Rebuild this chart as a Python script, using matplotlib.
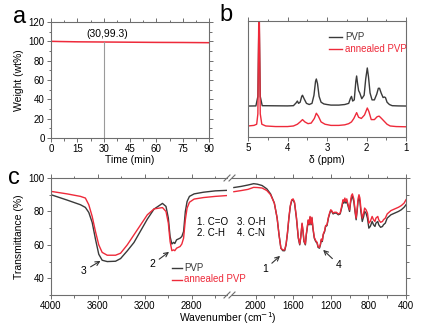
import matplotlib
matplotlib.use("Agg")
import matplotlib.pyplot as plt
import numpy as np

plt.rcParams['font.family'] = ['Liberation Sans', 'DejaVu Sans']

# ---------------- data ----------------
# (a) TGA
tga_time = [0, 5, 15, 30, 45, 60, 75, 90]
tga_weight = [100.0, 99.8, 99.5, 99.3, 99.1, 98.9, 98.8, 98.6]
tga_mark_x = 30
tga_mark_y = 99.3

# (b) 1H NMR (offset spectra, arbitrary units)
nmr_pvp_ppm = [5.0, 4.80, 4.75, 4.72, 4.69, 4.64, 4.0, 3.85, 3.78, 3.75, 3.72, 3.68, 3.64, 3.62,
               3.58, 3.52, 3.45, 3.38, 3.33, 3.29, 3.27, 3.24, 3.20, 3.15, 3.08, 3.0, 2.9, 2.7,
               2.55, 2.45, 2.41, 2.38, 2.35, 2.31, 2.27, 2.25, 2.23, 2.20, 2.17, 2.12, 2.06, 2.02,
               1.98, 1.95, 1.91, 1.86, 1.80, 1.74, 1.70, 1.67, 1.63, 1.58, 1.55, 1.52, 1.48, 1.42,
               1.35, 1.2, 1.0]
nmr_pvp_int = [26.7, 26.8, 35, 110, 35, 27, 26.8, 27, 29.5, 31, 29, 30, 35, 36,
               33, 29, 28, 29, 36, 48, 50, 46, 35, 30, 28.5, 28, 27.5, 27.5,
               28, 29, 33, 35, 31, 32, 48, 52.6, 47, 40, 38, 33, 36, 50,
               59.5, 52, 38, 32, 32, 37, 42, 42, 38, 34, 34.5, 34, 30, 28,
               27, 26.8, 26.7]
nmr_ann_ppm = [5.0, 4.85, 4.78, 4.75, 4.72, 4.69, 4.65, 4.55, 4.3, 4.0, 3.85, 3.75, 3.68, 3.62,
               3.56, 3.48, 3.40, 3.32, 3.27, 3.22, 3.15, 3.05, 2.9, 2.7, 2.55, 2.45, 2.38, 2.32,
               2.25, 2.20, 2.13, 2.05, 1.98, 1.94, 1.88, 1.80, 1.73, 1.68, 1.62, 1.55, 1.48, 1.4,
               1.25, 1.0]
nmr_ann_int = [9.5, 10, 11, 20, 130, 20, 11, 9.5, 9, 9, 9.5, 11, 13, 15,
               13, 11.5, 12, 16, 20.5, 18, 13, 11, 10, 10, 10.5, 11.5, 13, 16,
               21, 17, 16, 19, 25, 22, 15, 15, 17.5, 18, 16, 13.5, 11, 9.5,
               9, 8.8]

# (c) FTIR, left segment (4000-2500 cm-1)
ir_left_wn = [4000, 3863, 3749, 3707, 3678, 3649, 3621, 3593, 3564, 3521, 3450, 3407, 3350,
              3293, 3236, 3179, 3122, 3050, 3020, 3000, 2985, 2970, 2955, 2945, 2930, 2915,
              2900, 2885, 2870, 2855, 2840, 2820, 2780, 2700, 2600, 2500]
ir_left_pvp = [90.0, 86.8, 84.0, 82.4, 79.4, 73.4, 63.4, 54.4, 50.8, 50.0, 50.2, 51.8, 56.4,
               61.4, 68.4, 75.4, 81.4, 84.8, 83, 76, 65, 60.5, 61.5, 60.8, 63, 63.5,
               64, 65, 68, 80, 86, 89, 90.5, 91.5, 92.3, 92.6]
ir_left_ann = [92.0, 90.5, 89.0, 88.0, 84.0, 77.0, 68.0, 60.0, 55.5, 53.8, 53.8, 55.0, 60.0,
               66.0, 72.0, 78.0, 81.5, 82.3, 80, 73, 62, 56.5, 57, 56.5, 58, 58.5,
               59, 60.5, 64, 75, 82, 85.5, 87.4, 88.3, 89, 89.5]
# FTIR, right segment (2250-400 cm-1)
ir_right_wn = [2230, 2150, 2080, 2020, 1980, 1930, 1880, 1840, 1800, 1770, 1750, 1730, 1710,
               1690, 1675, 1660, 1645, 1630, 1615, 1600, 1585, 1565, 1545, 1530, 1520, 1505,
               1495, 1485, 1470, 1460, 1450, 1440, 1430, 1420, 1410, 1400, 1390, 1375, 1360,
               1345, 1335, 1320, 1310, 1300, 1290, 1280, 1265, 1255, 1240, 1225, 1210, 1200,
               1190, 1175, 1160, 1140, 1120, 1100, 1080, 1070, 1060, 1050, 1040, 1030, 1020,
               1010, 1000, 990, 980, 970, 955, 940, 930, 920, 910, 900, 890, 880, 865, 850,
               840, 825, 810, 795, 780, 760, 745, 730, 720, 700, 690, 670, 650, 640, 620,
               600, 580, 560, 540, 520, 500, 480, 450, 420, 400]
ir_right_pvp = [94.3, 95.0, 95.8, 96.6, 96.3, 95.5, 93.5, 90.5, 85, 76, 66, 58, 56.5,
                56.5, 60, 67, 76, 83, 86.5, 87.0, 85, 76, 64, 60, 64, 72.5,
                68, 62, 60, 66, 70, 74.5, 72, 76.5, 72, 76, 70, 64, 62,
                61, 58.5, 58, 60, 63, 62, 66, 68, 71, 71.5, 76, 79, 80.5,
                80, 78.5, 79, 79, 78, 78.5, 83, 86, 85, 87, 85, 86.5, 84,
                82, 80, 85, 88, 89, 86, 79, 75, 80, 86, 88, 86, 80, 74, 77,
                80, 79, 76, 70, 71, 74, 72, 71, 73, 74, 72, 70.5, 71, 72, 73,
                76, 77, 78, 78.5, 79, 79.5, 80, 81, 82.5, 84]
ir_right_ann = [91.8, 92.5, 93.2, 94.4, 94.3, 94.0, 92.5, 90.0, 85, 76, 66, 58, 57,
                57, 60.5, 67.5, 76.5, 83.5, 87, 87.5, 85.5, 76.5, 64.5, 60.5, 64.5, 73,
                68.5, 62.5, 60.5, 66.5, 70.5, 75, 72.5, 77, 72.5, 76.5, 70.5, 64.5, 62.5,
                61.5, 59, 58.5, 60.5, 63.5, 62.5, 66.5, 68.5, 71.5, 72, 76.5, 79.5, 81,
                80.5, 79, 79.5, 79.5, 78.5, 79, 84, 87, 86, 88, 86, 87.5, 85,
                83, 81, 86, 89.5, 90.5, 87.5, 80, 76, 81, 87.5, 90, 88, 82, 76, 79,
                82, 81, 79, 73, 74, 77, 75, 74, 76, 77, 75, 73.5, 74, 75, 76,
                78.5, 79.5, 80.5, 81, 81.5, 82, 82.5, 83.5, 85, 87]

ir_labels = ['1. C=O', '2. C-H', '3. O-H', '4. C-N']
series_names = ['PVP', 'annealed PVP']

# ---------------- style ----------------
BLACK = '#3a3a3a'
RED = '#ee2a3a'
SPINE = '#6e6e6e'
TICK_FS = 7
LAB_FS = 7.5
W, H = 424, 324
fig = plt.figure(figsize=(W / 100, H / 100), dpi=100)


def rect(l, t, r, b):
    return [l / W, 1 - b / H, (r - l) / W, (b - t) / H]


def fx(px):
    return px / W


def fy(py):
    return 1 - py / H


def style(ax):
    for s in ax.spines.values():
        s.set_color(SPINE)
        s.set_linewidth(0.8)
    ax.tick_params(axis='both', which='both', colors=SPINE, labelcolor='black',
                   labelsize=TICK_FS, direction='out', length=3, width=0.7, pad=1.5)
    ax.tick_params(axis='both', which='minor', length=1.8)


def manual_legend(x_line, x_text, ys):
    for name, col, yy in zip(series_names, [BLACK, RED], ys):
        fig.add_artist(plt.Line2D([fx(x_line[0]), fx(x_line[1])], [fy(yy), fy(yy)],
                                  color=col, lw=1.0))
        fig.text(fx(x_text), fy(yy), name, fontsize=7, color=col, ha='left', va='center')


# ---------------- panel a ----------------
axa = fig.add_axes(rect(51, 22, 209, 138))
axa.plot(tga_time, tga_weight, color=RED, lw=1.1)
axa.plot([tga_mark_x, tga_mark_x], [0, tga_mark_y], color='#9a9a9a', lw=0.8)
axa.text(tga_mark_x + 2, tga_mark_y + 3, '(%d,%.1f)' % (tga_mark_x, tga_mark_y),
         ha='center', va='bottom', fontsize=7.5)
axa.set_xlim(0, 90)
axa.set_ylim(0, 120)
axa.set_xticks(np.arange(0, 91, 15))
axa.set_yticks(np.arange(0, 121, 20))
axa.set_xticks(np.arange(7.5, 90, 15), minor=True)
axa.set_yticks(np.arange(10, 120, 20), minor=True)
style(axa)
axa.tick_params(top=True, right=True, which='both')
axa.set_xlabel('Time (min)', fontsize=LAB_FS, labelpad=0.5)
axa.set_ylabel('Weight (wt%)', fontsize=LAB_FS, labelpad=3)
fig.text(fx(20), fy(17), 'a', fontsize=17, ha='center', va='center')

# ---------------- panel b ----------------
axb = fig.add_axes(rect(248, 21, 406, 137))
axb.plot(nmr_pvp_ppm, nmr_pvp_int, color=BLACK, lw=1.0)
axb.plot(nmr_ann_ppm, nmr_ann_int, color=RED, lw=1.0)
axb.set_xlim(5, 1)
axb.set_ylim(0, 100)
axb.set_xticks([5, 4, 3, 2, 1])
axb.set_xticks([4.5, 3.5, 2.5, 1.5], minor=True)
axb.set_yticks([])
style(axb)
axb.tick_params(top=True, which='both')
axb.set_xlabel('δ (ppm)', fontsize=LAB_FS, labelpad=1.5)
manual_legend((329, 342), 345, (37, 49))
fig.text(fx(226), fy(15), 'b', fontsize=17, ha='center', va='center')

# ---------------- panel c ----------------
axl = fig.add_axes(rect(51, 178, 227, 295))
axr = fig.add_axes(rect(232, 178, 406, 295))
for ax, wn, p, a in [(axl, ir_left_wn, ir_left_pvp, ir_left_ann),
                     (axr, ir_right_wn, ir_right_pvp, ir_right_ann)]:
    ax.plot(wn, p, color=BLACK, lw=1.0)
    ax.plot(wn, a, color=RED, lw=1.0)
    ax.set_ylim(30, 100)
    style(ax)
axl.set_xlim(4000, 2500)
axr.set_xlim(2250, 400)
axl.set_xticks([4000, 3600, 3200, 2800])
axl.set_xticks([3800, 3400, 3000, 2600], minor=True)
axr.set_xticks([2000, 1600, 1200, 800, 400])
axr.set_xticks([1800, 1400, 1000, 600], minor=True)
axl.set_yticks([40, 60, 80, 100])
axl.set_yticks([30, 50, 70, 90], minor=True)
axl.spines['right'].set_visible(False)
axr.spines['left'].set_visible(False)
axr.set_yticks([40, 60, 80, 100])
axr.set_yticks([30, 50, 70, 90], minor=True)
axr.tick_params(axis='y', which='both', left=False, labelleft=False, right=True)
axl.tick_params(axis='x', which='both', top=True, pad=1)
axr.tick_params(axis='x', which='both', top=True, pad=1)
axl.set_ylabel('Transmittance (%)', fontsize=LAB_FS, labelpad=3)
fig.text(fx(228), fy(321.5), 'Wavenumber (cm$^{-1}$)', fontsize=LAB_FS,
         ha='center', va='baseline')
fig.text(fx(14), fy(178), 'c', fontsize=17, ha='center', va='center')

# break marks
for xb in (227, 232):
    for yb in (178, 295):
        fig.add_artist(plt.Line2D([fx(xb - 3), fx(xb + 3)], [fy(yb + 3), fy(yb - 3)],
                                  color=SPINE, lw=0.8))

manual_legend((172, 182), 184, (268, 279.5))

# band labels
fig.text(fx(197), fy(222), ir_labels[0], fontsize=7, ha='left', va='center')
fig.text(fx(197), fy(233), ir_labels[1], fontsize=7, ha='left', va='center')
fig.text(fx(237), fy(222), ir_labels[2], fontsize=7, ha='left', va='center')
fig.text(fx(237), fy(233), ir_labels[3], fontsize=7, ha='left', va='center')

arrow = dict(arrowstyle='->', color='#333333', lw=0.8, shrinkA=1, shrinkB=0)
axl.annotate('3', xy=(3578, 50.4), xytext=(3721, 44.4), fontsize=7.5,
             ha='center', va='center', arrowprops=arrow)
axl.annotate('2', xy=(2994, 55.8), xytext=(3136, 48.4), fontsize=7.5,
             ha='center', va='center', arrowprops=arrow)
axr.annotate('1', xy=(1739, 53.4), xytext=(1898, 45.4), fontsize=7.5,
             ha='center', va='center', arrowprops=arrow)
axr.annotate('4', xy=(1281, 57), xytext=(1112, 48), fontsize=7.5,
             ha='center', va='center', arrowprops=arrow)

fig.savefig('out.png', dpi=100)
